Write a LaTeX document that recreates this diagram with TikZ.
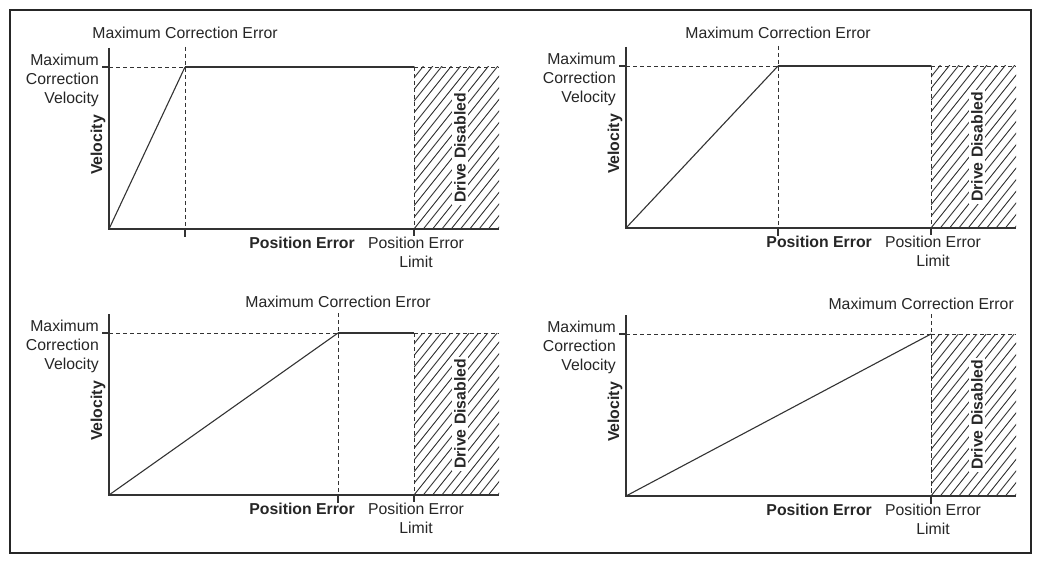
\documentclass[tikz,border=0pt]{standalone}
\usepackage{fontspec}
\setmainfont{Liberation Sans}
\definecolor{ink}{gray}{0.2}
\definecolor{txt}{gray}{0.15}
\tikzset{
  axisline/.style={draw=ink, line width=1.4pt},
  ramp/.style={draw=ink, line width=1.1pt},
  guide/.style={draw=ink, line width=0.9pt, dash pattern=on 4pt off 3pt},
  hatchline/.style={draw=ink, line width=0.9pt},
  lbl/.style={inner sep=0pt, text=txt, font=\fontsize{15.8}{19}\selectfont},
  blbl/.style={lbl, font=\fontsize{15.8}{19}\selectfont\bfseries},
  frame/.style={draw=black!85, line width=1.4pt}
}
\newcommand\drawpanel[5]{%
  \begin{scope}[shift={(#1,#2)}]
    % hatch
    \begin{scope}
      \clip (305,-162) rectangle (390,0);
      \foreach \i in {-16,...,10} {
        \draw[hatchline] ({305+\i*9.3},0) -- ++(150,-187.5);
      }
    \end{scope}
    \node[blbl, rotate=90, fill=white, inner sep=2pt] (dd#5) at (351,-81) {Drive Disabled};
    % axes
    \coordinate (o#5) at (0,0);
    \coordinate (yt#5) at (0,-181);
    \coordinate (xe#5) at (390,0);
    \coordinate (vt#5) at (0,-162);
    \coordinate (vtl#5) at (-7,-162);
    \coordinate (m#5) at (#3,-162);
    \coordinate (mt#5) at (#3,-182);
    \coordinate (mb#5) at (#3,0);
    \coordinate (mbt#5) at (#3,8);
    \coordinate (p#5) at (305,-162);
    \coordinate (pb#5) at (305,0);
    \coordinate (pbt#5) at (305,7);
    \coordinate (pe#5) at (390,-162);
    \draw[guide] (vt#5) -- (m#5);
    \draw[guide] (p#5) -- (pe#5);
    \draw[guide] (mt#5) -- (mb#5);
    \draw[guide] (p#5) -- (pb#5);
    \draw[axisline] (m#5) -- (p#5);
    \draw[axisline] (yt#5) -- (o#5) -- (xe#5);
    \draw[axisline] (vtl#5) -- (vt#5);
    \draw[axisline] (mb#5) -- (mbt#5);
    \draw[axisline] (pb#5) -- (pbt#5);
    \draw[ramp] (o#5) -- (m#5);
    % labels
    \node[lbl, anchor=base east] (mcv1#5) at (-10,-163.5) {Maximum};
    \node[lbl, anchor=base east] (mcv2#5) at (-10,-144.5) {Correction};
    \node[lbl, anchor=base east] (mcv3#5) at (-10,-125.5) {Velocity};
    \node[blbl, rotate=90] (vel#5) at (-11,-84) {Velocity};
    \node[lbl, #4] (mce#5) {Maximum Correction Error};
    \node[blbl, anchor=base east] (pos#5) at (246,19.5) {Position Error};
    \node[lbl, anchor=base] (pel1#5) at (307,19.5) {Position Error};
    \node[lbl, anchor=base] (pel2#5) at (307,38.5) {Limit};
  \end{scope}}
\begin{document}
\begin{tikzpicture}[x=1pt, y=-1pt]
  \useasboundingbox (0,0) rectangle (1047,564);
  \fill[white] (0,0) rectangle (1047,564);
  \draw[frame] (10,10) rectangle (1031,553);
  \drawpanel{109}{229}{76}{anchor=base, at={(76,-190)}}{a}
  \drawpanel{626}{228}{152}{anchor=base, at={(152,-189)}}{b}
  \drawpanel{109}{495}{229}{anchor=base, at={(229,-188)}}{c}
  \drawpanel{626}{496}{305}{anchor=base east, at={(388,-187)}}{d}
\end{tikzpicture}
\end{document}
